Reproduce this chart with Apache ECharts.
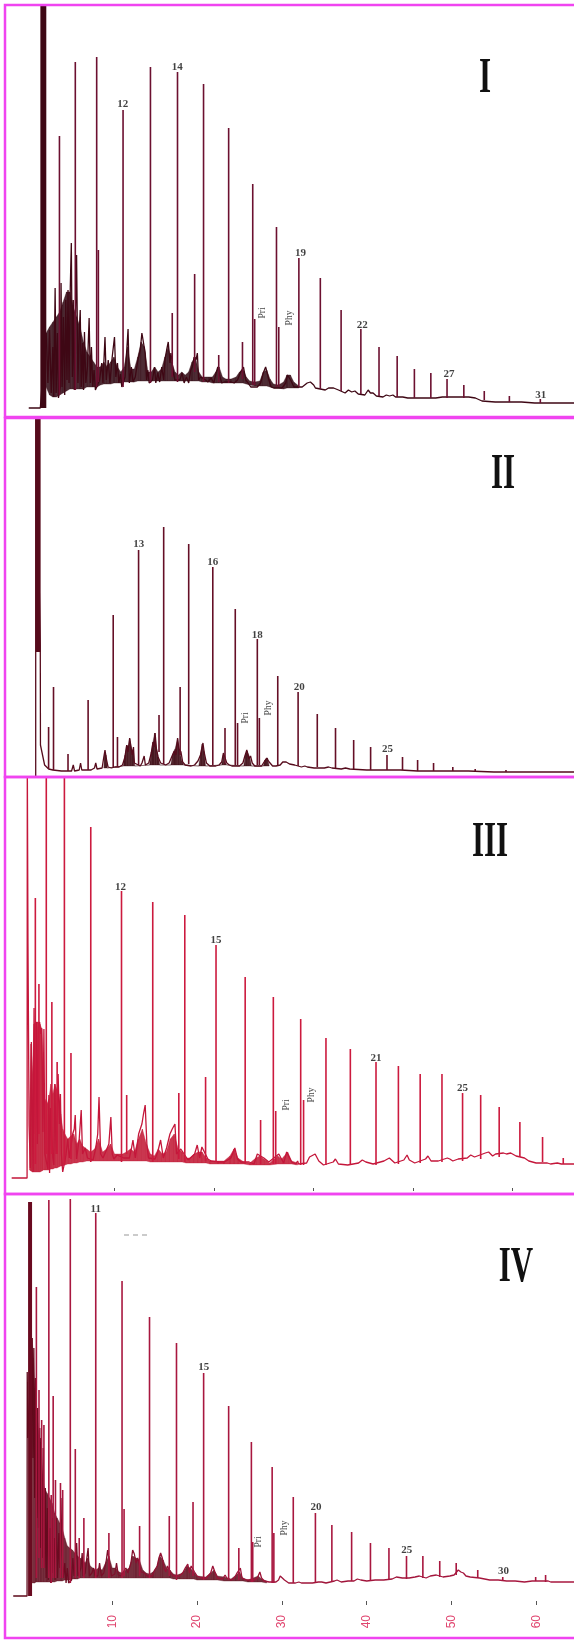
<!DOCTYPE html>
<html>
<head>
<meta charset="utf-8">
<script src="https://cdn.jsdelivr.net/npm/echarts@6/dist/echarts.min.js"></script>
<style>
html,body{margin:0;padding:0;background:#fff;}
#chart{width:574px;height:1641px;}
</style>
</head>
<body>
<div id="chart"></div>
<script>
// ---------------- DATA (retention time in min, detector response in arbitrary units) ----------------
const timeTicksIV = [10, 20, 30, 40, 50, 60];
const timeTicksIII = [10, 20, 30, 40, 50];
const panelNames = ['I', 'II', 'III', 'IV'];

// Panel I
const solventI = [[1.52, 2.22, 430, 9]];
const peaksI = [[3.77,281,22],[5.64,355,27],[8.16,360,30],[8.36,167,35],[11.27,307,30],[14.50,350,34],[17.07,104,40],[17.69,345,35],[19.71,143,45],[20.76,333,35],[22.55,62,35],[23.72,289,34],[25.35,75,38],[26.56,233,32],[26.79,98,32],[29.36,190,30],[29.63,90,30],[32.00,159,30],[34.53,139,28],[36.98,107,26],[39.31,88,23],[41.45,70,21],[43.59,61,20],[45.62,48,19],[47.56,44,19],[49.47,38,19],[51.45,32,19],[53.86,26,17],[56.82,21,15],[60.47,18,14]];
const traceI = [[0.15,9],[1.51,9],[2.21,84],[2.41,34],[2.60,87],[2.80,24],[2.99,70],[3.11,20],[3.26,129],[3.38,24],[3.53,84],[3.65,19],[3.88,30],[3.96,134],[4.08,30],[4.24,100],[4.39,22],[4.51,117],[4.66,37],[4.78,127],[4.90,34],[5.05,130],[5.17,174],[5.29,40],[5.40,117],[5.52,27],[5.79,162],[5.95,34],[6.10,85],[6.22,107],[6.34,30],[6.49,74],[6.61,27],[6.72,85],[6.88,34],[7.07,50],[7.27,99],[7.42,34],[7.54,70],[7.70,30],[7.85,47],[8.01,27],[8.51,37],[8.75,54],[8.90,34],[9.14,80],[9.29,37],[9.52,57],[9.72,34],[9.99,60],[10.26,80],[10.42,40],[10.61,54],[10.77,34],[10.96,43],[11.12,30],[11.51,40],[11.86,88],[12.01,34],[12.25,50],[12.44,35],[12.71,40],[13.02,57],[13.30,67],[13.49,84],[13.69,85],[13.88,64],[14.04,37],[14.19,47],[14.35,34],[14.74,37],[14.97,50],[15.13,34],[15.36,44],[15.59,35],[15.83,50],[16.06,37],[16.21,57],[16.41,67],[16.60,75],[16.80,54],[16.91,64],[17.23,43],[17.38,37],[17.96,37],[18.24,44],[18.47,34],[18.74,40],[19.01,34],[19.25,47],[19.44,50],[19.64,60],[19.87,57],[20.03,64],[20.18,37],[20.41,40],[21.00,37],[21.27,35],[21.66,39],[21.97,34],[22.24,44],[22.44,50],[22.71,40],[22.90,34],[23.21,35],[23.99,35],[24.38,34],[24.77,37],[25.08,44],[25.47,50],[25.74,37],[26.01,34],[26.33,30],[27.10,30],[27.49,34],[27.80,44],[28.08,50],[28.27,44],[28.46,37],[28.74,30],[29.05,29],[30.02,29],[30.25,28],[30.45,34],[30.64,42],[30.84,44],[31.03,37],[31.23,35],[31.42,30],[32.39,30],[32.98,34],[33.17,32],[33.36,35],[33.56,34],[33.75,32],[33.95,29],[35.11,27],[35.50,29],[35.70,30],[36.09,29],[36.28,30],[36.67,27],[37.45,24],[37.84,27],[38.23,25],[38.61,26],[39.00,23],[39.78,22],[40.17,27],[40.44,24],[40.75,24],[41.14,21],[41.92,20],[42.31,22],[42.70,21],[43.09,22],[43.40,20],[44.25,20],[44.84,19],[46.20,19],[46.78,19],[48.14,19],[48.92,20],[50.09,20],[50.87,20],[52.03,20],[52.81,19],[53.59,16],[55.14,15],[55.92,15],[58.25,15],[59.81,14],[61.37,14],[63.70,14],[64.5,14]];
// unresolved envelope [time, lower, upper]
const humpI = [[2.2,30,84],[2.6,22,90],[3.0,20,95],[3.4,20,100],[3.8,22,105],[4.2,24,115],[4.6,26,125],[5.0,28,125],[5.4,28,110],[5.8,28,100],[6.2,28,90],[6.6,28,75],[7.0,30,65],[7.4,30,60],[7.8,30,55],[8.2,30,50],[8.6,32,50],[9.0,33,55],[9.4,33,50],[9.8,33,55],[10.2,34,60],[10.6,34,50],[11.0,34,45],[11.4,35,50],[11.8,35,70],[12.2,35,48],[12.6,35,48],[13.0,36,60],[13.4,36,75],[13.8,36,70],[14.2,36,45],[14.6,36,45],[15.0,36,50],[15.4,36,45],[15.8,36,48],[16.2,36,60],[16.6,36,70],[17.0,36,55],[17.4,36,45],[17.8,36,42],[18.2,36,45],[18.6,36,42],[19.0,36,45],[19.4,36,55],[19.8,36,60],[20.2,36,45],[20.6,35,40],[21.0,35,40],[21.4,35,40],[21.8,34,40],[22.2,34,45],[22.6,34,50],[23.0,34,40],[23.4,34,38],[24.0,34,38],[24.6,34,40],[25.0,34,45],[25.4,34,48],[25.8,33,40],[26.2,32,36],[26.8,31,35],[27.4,31,36],[27.8,31,45],[28.2,31,47],[28.6,30,38],[29.0,29,33],[29.6,29,32],[30.2,28,35],[30.6,29,42],[31.0,29,42],[31.4,29,35],[32.0,29,31]];
const labelsI = [[11.24,313,'12'],[17.65,350,'14'],[27.77,104,'Pri'],[30.84,99,'Phy'],[32.20,164,'19'],[39.47,92,'22'],[49.70,43,'27'],[60.51,22,'31']];

// Panel II
const solventII = [[0.97, 1.55, 400, 125]];
const peaksII = [[2.49,50,8],[3.07,90,7],[4.78,23,6],[7.15,77,7],[10.11,162,10],[10.61,40,10],[13.10,227,12],[15.51,62,25],[16.06,250,13],[18.00,90,22],[19.01,233,13],[21.85,210,12],[23.29,49,13],[24.50,168,12],[24.77,54,12],[27.10,138,12],[27.34,59,12],[29.51,101,12],[31.91,85,11],[34.17,63,10],[36.32,49,9],[38.46,37,8],[40.46,30,7],[42.39,22,7],[44.22,20,7],[46.00,17,6],[47.88,14,6],[50.15,10,6],[52.79,8,6],[56.42,7,5]];
const traceII = [[0.97,0],[0.97,400],[1.51,132],[1.53,32],[2.02,12],[2.5,8],[3.0,7],[4.0,6],[5.2,6],[5.40,12],[5.55,6],[6.1,7],[6.26,14],[6.4,7],[7.5,7],[7.9,9],[8.05,14],[8.2,8],[8.8,9],[9.0,20],[9.14,27],[9.3,18],[9.5,10],[9.9,9],[10.3,10],[10.8,10],[11.2,12],[11.5,20],[11.7,32],[11.85,25],[12.05,39],[12.2,30],[12.35,22],[12.5,30],[12.6,14],[12.8,12],[13.3,11],[13.5,14],[13.76,21],[13.9,12],[14.3,14],[14.6,24],[14.8,35],[14.95,30],[15.05,44],[15.2,28],[15.4,20],[15.7,14],[16.3,12],[16.7,14],[17.0,20],[17.3,26],[17.5,22],[17.7,39],[17.85,28],[18.1,25],[18.3,15],[18.6,12],[19.3,11],[19.7,12],[20.1,16],[20.4,22],[20.69,34],[20.85,24],[21.1,14],[21.5,11],[22.2,11],[22.6,12],[22.9,15],[23.1,24],[23.5,14],[23.8,12],[24.1,11],[25.0,11],[25.4,14],[25.6,20],[25.86,27],[26.1,18],[26.3,21],[26.5,14],[26.8,11],[27.6,11],[27.9,15],[28.2,19],[28.5,15],[28.9,11],[29.3,11],[29.8,12],[30.1,15],[30.5,15],[30.9,13],[31.5,12],[32.3,10],[32.7,11],[33.0,10],[33.8,9],[35.0,9],[35.5,10],[35.9,9],[37.0,8],[37.5,9],[38.0,8],[40,7],[42,7],[44,7],[46,6],[48,6],[50,6],[52,6],[55,5],[58,5],[62,5],[64.5,5]];
const humpII = [[9.0,9,9],[9.1,9,24],[9.25,9,22],[9.4,9,9],[11.3,11,11],[11.5,11,22],[11.7,11,32],[11.9,11,30],[12.05,11,38],[12.3,11,28],[12.5,11,25],[12.65,11,11],[14.4,12,12],[14.6,12,25],[14.8,12,35],[15.0,12,44],[15.2,12,30],[15.4,12,20],[15.6,12,12],[16.9,12,12],[17.1,12,22],[17.4,12,28],[17.7,12,38],[17.9,12,28],[18.2,12,16],[18.4,12,12],[20.2,11,11],[20.4,11,22],[20.6,11,33],[20.8,11,26],[21.0,11,11],[22.9,12,12],[23.1,12,22],[23.3,12,14],[23.5,12,12],[25.5,11,11],[25.7,11,22],[25.9,11,26],[26.2,11,20],[26.4,11,11],[27.8,11,11],[28.0,11,17],[28.3,11,19],[28.5,11,11]];
const labelsII = [[13.12,233,'13'],[21.85,215,'16'],[25.74,59,'Pri'],[27.10,142,'18'],[28.47,69,'Phy'],[32.04,90,'20'],[42.46,28,'25']];

// Panel III
const peaksIII = [[2.04,296,30],[2.40,210,60],[3.14,440,40],[3.70,192,40],[4.23,132,40],[4.96,440,30],[5.62,141,35],[7.61,367,32],[10.70,303,32],[11.22,99,40],[13.84,292,32],[16.46,101,35],[17.06,279,32],[19.15,117,33],[20.20,249,32],[23.13,217,30],[24.68,74,30],[25.96,197,30],[26.20,83,30],[28.71,175,29],[29.00,94,29],[31.25,156,29],[33.70,145,29],[36.28,132,29],[38.53,128,30],[40.72,120,31],[42.91,120,32],[44.98,101,33],[46.80,99,35],[48.66,87,37],[50.74,72,37],[53.02,57,32],[55.10,36,30]];
const traceIII = [[-0.34,16],[1.21,16],[1.23,440],[1.30,250],[1.41,69],[1.54,26],[1.64,152],[1.81,22],[1.91,186],[2.04,60],[2.14,172],[2.24,50],[2.34,166],[2.47,172],[2.57,160],[2.67,166],[2.80,62],[2.90,165],[3.00,40],[3.30,25],[3.40,99],[3.47,21],[3.57,86],[3.80,36],[3.90,29],[4.00,110],[4.13,40],[4.33,120],[4.46,70],[4.56,100],[4.66,40],[4.79,22],[5.12,39],[5.29,55],[5.45,36],[5.79,60],[5.95,65],[6.05,79],[6.18,35],[6.45,55],[6.65,84],[6.78,40],[7.05,46],[7.28,36],[7.84,34],[8.11,46],[8.31,60],[8.44,97],[8.60,40],[8.84,36],[9.10,42],[9.43,50],[9.63,77],[9.77,40],[9.93,35],[10.26,39],[10.92,36],[11.49,36],[11.69,45],[11.85,54],[12.09,36],[12.42,60],[12.75,70],[12.91,80],[13.08,89],[13.25,50],[13.41,36],[14.07,35],[14.34,42],[14.63,54],[14.90,36],[15.23,46],[15.57,60],[15.80,65],[16.07,70],[16.23,40],[16.66,45],[17.39,34],[18.05,40],[18.31,49],[18.55,36],[18.78,47],[19.38,35],[19.71,33],[20.54,32],[21.04,32],[21.70,36],[22.09,46],[22.36,35],[22.69,32],[23.52,32],[24.02,30],[24.35,40],[25.01,36],[25.51,32],[26.51,40],[27.00,31],[27.3,42],[27.5,44],[27.8,32],[28.2,30],[28.4,33],[28.5,30],[29.3,31],[29.6,37],[30.16,40],[30.53,33],[31.0,29],[31.98,32],[32.2,35],[32.5,30],[33.44,29],[34.53,31],[34.9,34],[35.26,32],[35.99,30],[37.08,33],[37.62,36],[38.17,31],[39.08,34],[39.4,39],[39.63,34],[40.17,31],[41.26,35],[41.5,38],[41.81,33],[42.54,33],[43.45,36],[43.7,35],[44.00,33],[44.54,35],[45.45,36],[45.8,39],[46.18,37],[47.27,41],[47.6,42],[48.00,38],[48.3,40],[49.09,41],[49.4,40],[49.82,41],[50.36,38],[51.2,36],[51.64,33],[52.37,31],[53.5,31],[53.82,30],[54.5,31],[54.91,30],[55.57,30],[56.2,30]];
const humpIII = [[1.45,24,80],[1.6,23,150],[1.75,22,120],[1.9,22,170],[2.1,22,172],[2.3,22,172],[2.5,22,170],[2.7,23,165],[2.85,24,120],[3.0,24,95],[3.2,24,90],[3.4,24,95],[3.6,25,110],[3.8,25,100],[4.0,26,110],[4.2,26,105],[4.4,27,100],[4.6,28,80],[4.8,28,65],[5.0,29,60],[5.3,30,55],[5.6,30,58],[5.9,31,60],[6.2,31,50],[6.5,32,55],[6.8,32,48],[7.2,33,45],[7.6,33,42],[8.0,33,45],[8.4,33,55],[8.8,33,42],[9.2,33,45],[9.6,33,50],[10.0,33,40],[10.4,33,40],[10.8,33,40],[11.2,33,42],[11.6,33,45],[12.0,33,42],[12.4,33,55],[12.8,33,65],[13.2,33,50],[13.6,32,40],[14.0,32,38],[14.4,32,45],[14.8,32,40],[15.2,32,42],[15.6,32,55],[16.0,32,60],[16.4,32,45],[16.8,32,42],[17.2,31,36],[17.6,31,36],[18.0,31,40],[18.4,31,42],[18.8,31,42],[19.2,31,36],[19.6,30,33],[20.4,30,33],[21.0,30,33],[21.6,30,38],[22.0,30,45],[22.4,30,36],[23.0,30,32],[23.6,29,31],[24.2,29,36],[24.6,29,38],[25.0,29,35],[25.6,29,31],[26.4,30,38],[26.8,30,35],[27.4,30,42],[27.8,30,33],[28.4,29,31]];
const labelsIII = [[10.60,307,'12'],[20.20,254,'15'],[27.26,89,'Pri'],[29.80,99,'Phy'],[36.28,136,'21'],[44.98,106,'25']];

// Panel IV
const solventIV = [[0.07, 0.54, 436, 42]];
const peaksIV = [[1.05,351,60],[1.36,248,80],[1.67,218,70],[1.94,213,70],[2.52,438,60],[2.80,143,55],[3.03,242,60],[3.30,158,60],[3.89,155,60],[4.15,148,60],[5.05,439,55],[5.64,189,60],[6.10,100,60],[6.65,120,60],[8.05,425,60],[9.60,105,60],[11.15,357,60],[11.39,129,62],[13.22,112,62],[14.39,321,60],[16.72,122,62],[17.57,295,58],[19.52,136,62],[20.77,265,58],[23.72,232,58],[24.92,90,58],[26.40,196,56],[26.56,96,56],[28.85,171,55],[29.05,105,55],[31.34,141,55],[33.95,125,55],[35.89,113,56],[38.22,106,57],[40.44,95,57],[42.62,90,58],[44.69,82,59],[46.62,82,60],[48.61,77,61],[50.55,75,63],[53.09,68,60],[56.04,61,57],[59.92,61,57],[61.09,63,56]];
const traceIV = [[-1.68,42],[-0.05,42],[-0.03,266],[0.05,200],[0.55,300],[0.65,180],[0.75,290],[0.85,140],[0.95,260],[1.10,120],[1.20,230],[1.30,110],[1.45,210],[1.55,90],[1.62,200],[1.75,80],[1.85,190],[2.0,70],[2.1,150],[2.2,60],[2.35,130],[2.45,58],[2.65,110],[2.75,55],[2.90,120],[3.0,65],[3.15,100],[3.25,58],[3.40,120],[3.55,60],[3.7,105],[3.8,70],[3.95,140],[4.05,90],[4.25,60],[4.4,75],[4.55,55],[4.7,70],[4.85,55],[5.2,58],[5.35,80],[5.5,62],[5.8,95],[5.95,62],[6.3,70],[6.45,85],[6.55,62],[6.8,65],[7.0,80],[7.15,90],[7.3,62],[7.6,65],[7.8,70],[7.95,62],[8.3,62],[8.5,75],[8.7,62],[9.0,65],[9.3,78],[9.45,88],[9.75,70],[9.9,62],[10.3,64],[10.5,75],[10.7,63],[11.0,62],[11.6,70],[11.85,65],[12.2,75],[12.4,88],[12.6,84],[12.8,75],[13.0,80],[13.4,66],[13.8,65],[14.1,62],[14.7,62],[15.0,68],[15.3,72],[15.5,80],[15.7,85],[15.9,80],[16.1,70],[16.3,66],[16.5,72],[16.9,65],[17.2,62],[17.9,62],[18.3,65],[18.6,70],[18.9,74],[19.1,65],[19.3,72],[19.7,66],[20.0,62],[20.5,60],[21.1,60],[21.6,65],[21.85,72],[22.1,66],[22.4,60],[23.0,59],[23.3,63],[23.5,60],[24.0,58],[24.4,60],[24.7,65],[25.1,70],[25.3,60],[25.8,58],[26.0,60],[26.8,58],[27.1,60],[27.4,66],[27.6,60],[27.9,57],[28.5,56],[29.3,56],[29.6,58],[29.8,62],[30.0,60],[30.3,58],[30.8,55],[31.6,55],[32.0,56],[32.3,55],[33.0,55],[33.6,55],[34.3,56],[34.7,56],[35.2,55],[36.2,57],[36.5,58],[37.0,56],[37.8,57],[38.5,57],[38.9,59],[39.3,58],[40.0,57],[41.0,58],[42.0,58],[43.0,59],[43.5,61],[44.2,60],[45.0,60],[45.7,61],[46.2,62],[47.0,60],[47.5,62],[48.2,63],[49.0,61],[49.8,62],[50.3,63],[50.8,68],[51.1,66],[51.4,65],[51.7,62],[52.2,61],[53.3,60],[54.5,58],[55.5,58],[56.5,57],[57.5,57],[58.6,56],[59.5,57],[60.3,57],[61.4,57],[61.7,56],[62.5,56],[64.5,56]];
const humpIV = [[0.55,55,300],[0.7,55,280],[0.85,55,250],[1.0,56,230],[1.2,56,215],[1.4,56,200],[1.6,56,180],[1.8,56,160],[2.0,56,150],[2.3,56,145],[2.6,56,140],[2.9,56,135],[3.2,56,125],[3.5,57,120],[3.8,57,115],[4.1,57,110],[4.4,58,100],[4.7,58,92],[5.0,58,90],[5.3,59,88],[5.6,59,85],[5.9,59,82],[6.2,60,80],[6.5,60,78],[6.8,60,75],[7.1,60,80],[7.4,60,72],[7.7,60,70],[8.0,60,68],[8.4,60,70],[8.8,60,68],[9.2,60,75],[9.6,60,82],[10.0,60,70],[10.4,60,70],[10.8,60,66],[11.2,60,65],[11.6,60,68],[12.0,60,70],[12.4,60,82],[12.8,60,80],[13.2,60,78],[13.6,60,68],[14.0,60,65],[14.4,60,64],[14.8,60,66],[15.2,60,70],[15.6,60,82],[16.0,60,78],[16.4,60,70],[16.8,60,68],[17.2,59,64],[17.6,59,63],[18.0,59,64],[18.4,59,66],[18.8,59,72],[19.2,59,70],[19.6,59,66],[20.0,58,62],[21.0,58,61],[21.6,58,65],[22.0,58,68],[22.4,58,62],[23.2,57,61],[24.0,57,59],[24.6,57,63],[25.0,57,66],[25.4,57,60],[26.0,56,58],[27.2,56,62],[27.6,56,59],[28.2,55,57]];
const labelsIV = [[8.05,429,'11'],[20.77,271,'15'],[27.22,96,'Pri'],[30.30,110,'Phy'],[34.02,131,'20'],[44.72,88,'25'],[56.12,67,'30']];

// ---------------- LAYOUT / STYLE ----------------
const frames = [
  {top: 5,    h: 412, range: [-2.65, 64.44], trace: traceI,   peaks: peaksI,   solvent: solventI,  labels: labelsI, hump: humpI,
   traceColor: '#3e0714', peakColor: '#6c1030', humpColor: 'rgba(46,6,16,0.85)', roman: [485, 79]},
  {top: 418,  h: 359, range: [-2.65, 64.44], trace: traceII,  peaks: peaksII,  solvent: solventII, labels: labelsII, hump: humpII,
   traceColor: '#560b1c', peakColor: '#650f26', humpColor: 'rgba(60,8,18,0.9)', roman: [503, 475]},
  {top: 777,  h: 417, range: [-1.01, 56.18], trace: traceIII, peaks: peaksIII, solvent: [],        labels: labelsIII, hump: humpIII,
   traceColor: '#c4163a', peakColor: '#cc1a3e', humpColor: 'rgba(192,19,47,0.85)', roman: [490, 843]},
  {top: 1194, h: 444, range: [-2.65, 64.44], trace: traceIV,  peaks: peaksIV,  solvent: solventIV, labels: labelsIV, hump: humpIV,
   traceColor: new echarts.graphic.LinearGradient(0, 0, 1, 0, [
     {offset: 0, color: '#5a0818'}, {offset: 0.12, color: '#700c24'},
     {offset: 0.3, color: '#9a1236'}, {offset: 1, color: '#a8173f'}]),
   peakColor: '#a8173f', solventColor: '#6a0a20', humpColor: 'rgba(94,10,28,0.85)', roman: [516, 1268]}
];

const grids = [], xAxes = [], yAxes = [], series = [], graphics = [];

frames.forEach((f, i) => {
  grids.push({left: 5, top: f.top, width: 575, height: f.h, containLabel: false});
  const xa = {type: 'value', gridIndex: i, min: f.range[0], max: f.range[1], show: false,
              splitLine: {show: false}};
  if (i === 2) {
    Object.assign(xa, {show: true, offset: -6,
      axisLine: {show: false},
      axisTick: {show: true, customValues: timeTicksIII, length: 3, lineStyle: {color: '#555', width: 1}},
      axisLabel: {show: false}});
  }
  if (i === 3) {
    Object.assign(xa, {show: true, offset: -37,
      axisLine: {show: false},
      axisTick: {show: true, customValues: timeTicksIV, length: 4, lineStyle: {color: '#555', width: 1}},
      axisLabel: {show: true, customValues: timeTicksIV, rotate: 90, margin: 14,
                  color: '#e0456f', fontSize: 12, fontFamily: '"Liberation Sans", sans-serif'}});
  }
  xAxes.push(xa);
  yAxes.push({type: 'value', gridIndex: i, min: 0, max: f.h, show: false, splitLine: {show: false}});

  // unresolved complex mixture band: filled between lower and upper envelope
  const rows = f.hump, hc = f.humpColor;
  series.push({type: 'custom', xAxisIndex: i, yAxisIndex: i, data: rows, clip: true, silent: true, z: 1,
    encode: {x: 0, y: [1, 2]},
    renderItem: (params, api) => {
      const k = params.dataIndex;
      if (k >= rows.length - 1) return null;
      const t0 = api.value(0), n = rows[k + 1];
      const pts = [api.coord([t0, api.value(1)]), api.coord([t0, api.value(2)]),
                   api.coord([n[0], n[2]]), api.coord([n[0], n[1]])];
      return {type: 'polygon', shape: {points: pts}, style: {fill: hc, stroke: hc, lineWidth: 0.4}};
    }});

  // continuous detector trace
  series.push({type: 'line', xAxisIndex: i, yAxisIndex: i, data: f.trace, showSymbol: false, symbol: 'none',
    clip: true, silent: true, z: 2, lineStyle: {color: f.traceColor, width: 1.3}});

  // resolved peaks: vertical stroke from local base to apex
  const pc = f.peakColor;
  series.push({type: 'custom', xAxisIndex: i, yAxisIndex: i, data: f.peaks, clip: true, silent: true, z: 3,
    encode: {x: 0, y: [1, 2]},
    renderItem: (params, api) => {
      const t = api.value(0);
      const a = api.coord([t, api.value(2)]);
      const b = api.coord([t, api.value(1)]);
      return {type: 'line', shape: {x1: a[0], y1: a[1], x2: b[0], y2: b[1]},
              style: {stroke: pc, lineWidth: 1.6}};
    }});

  // solvent front (saturated band)
  if (f.solvent.length) {
    const sc = f.solventColor || f.traceColor;
    series.push({type: 'custom', xAxisIndex: i, yAxisIndex: i, data: f.solvent, clip: true, silent: true, z: 3,
      encode: {x: [0, 1], y: [2, 3]},
      renderItem: (params, api) => {
        const a = api.coord([api.value(0), api.value(2)]);
        const b = api.coord([api.value(1), api.value(3)]);
        return {type: 'rect', shape: {x: a[0], y: a[1], width: b[0] - a[0], height: b[1] - a[1]},
                style: {fill: sc}};
      }});
  }

  // peak annotations
  series.push({type: 'scatter', xAxisIndex: i, yAxisIndex: i, symbolSize: 1, silent: true, z: 5,
    itemStyle: {color: 'rgba(0,0,0,0)'},
    data: f.labels.map(d => {
      const rot = (d[2] === 'Pri' || d[2] === 'Phy');
      return {value: [d[0], d[1]], name: d[2],
              label: rot ? {rotate: 90, fontSize: 9.5, fontWeight: 'normal'} : {}};
    }),
    label: {show: true, position: 'inside', formatter: p => p.name, color: '#111',
            fontFamily: '"Liberation Serif", serif', fontSize: 11, fontWeight: 'bold'}
  });

  // panel frame
  graphics.push({type: 'rect', silent: true, z: 100,
    shape: {x: 5, y: f.top, width: 600, height: f.h},
    style: {fill: 'none', stroke: '#f044f0', lineWidth: 2.5}});
  // sample numeral
  graphics.push({type: 'text', silent: true, z: 100, x: f.roman[0], y: f.roman[1], scaleX: 0.62,
    style: {text: panelNames[i], x: 0, y: 0, fill: '#111', fontSize: 50, fontWeight: 'bold',
            fontFamily: '"Liberation Serif", "Times New Roman", serif',
            textAlign: 'center', textVerticalAlign: 'middle', align: 'center', verticalAlign: 'middle'}});
});

// faint stray marks in panel IV
graphics.push({type: 'line', silent: true, z: 50, shape: {x1: 124, y1: 1235, x2: 150, y2: 1235},
  style: {stroke: '#bbbbbb', lineWidth: 1.5, lineDash: [5, 4]}});

const chart = echarts.init(document.getElementById('chart'), null, {renderer: 'canvas', width: 574, height: 1641});
chart.setOption({
  animation: false,
  backgroundColor: '#ffffff',
  grid: grids,
  xAxis: xAxes,
  yAxis: yAxes,
  series: series,
  graphic: graphics
});
</script>
</body>
</html>
